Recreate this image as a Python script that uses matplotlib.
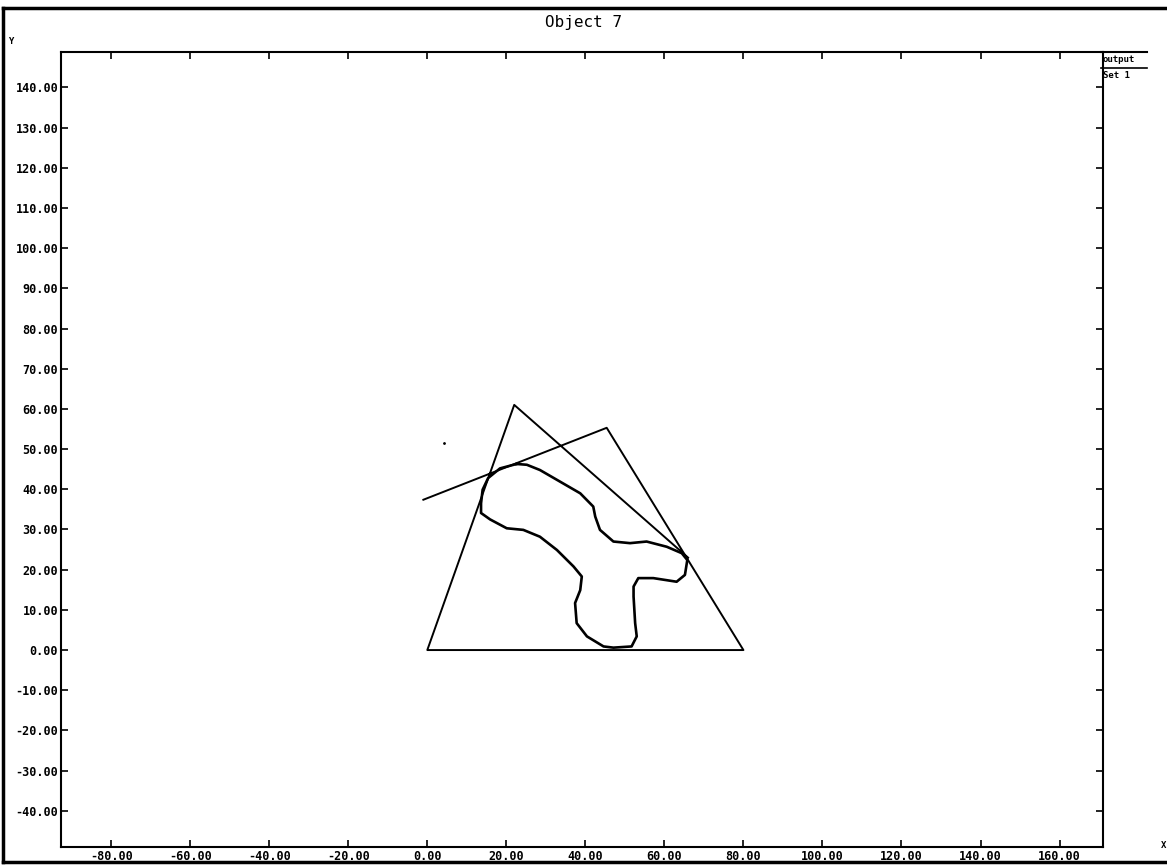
import matplotlib
matplotlib.use('Agg')
import matplotlib.pyplot as plt
from matplotlib.lines import Line2D

# construction lines (one polyline)
hull_x = [-1, 45.4, 80, 0, 22, 66]
hull_y = [37.4, 55.3, 0, 0, 61, 23]

# object outline
blob_x = [22.6, 18.4, 15.4, 14.0, 13.6, 13.6, 15.9, 20.1, 24.3, 28.5, 32.8, 37.0,
          39.1, 38.7, 37.4, 37.8, 40.4, 44.6, 47.1, 51.7, 53.0, 52.6, 52.2, 52.2,
          53.4, 57.2, 63.1, 65.2, 65.8, 64.4, 60.6, 55.5, 51.3, 47.1, 43.7, 42.5,
          42.0, 38.7, 33.6, 28.5, 25.2, 22.6]
blob_y = [46.3, 45.2, 42.8, 39.9, 36.5, 34.1, 32.5, 30.3, 29.9, 28.2, 24.9, 20.8,
          18.3, 14.9, 11.7, 6.7, 3.4, 0.9, 0.6, 0.9, 3.4, 6.7, 13.3, 15.8,
          17.9, 17.9, 17.0, 18.7, 22.4, 24.1, 25.7, 27.0, 26.6, 27.0, 29.9, 33.2,
          35.7, 39.0, 41.9, 44.8, 46.1, 46.3]

dot_x = [4.3]
dot_y = [51.5]

xticks = [-80, -60, -40, -20, 0, 20, 40, 60, 80, 100, 120, 140, 160]
yticks = [-40, -30, -20, -10, 0, 10, 20, 30, 40, 50, 60, 70, 80, 90, 100, 110, 120, 130, 140]

mono = 'DejaVu Sans Mono'

fig = plt.figure(figsize=(11.67, 8.66), dpi=100)
ax = fig.add_axes([61 / 1167, 19 / 866, 1042 / 1167, 795 / 866])

ax.plot(hull_x, hull_y, color='black', lw=1.4)
ax.plot(blob_x, blob_y, color='black', lw=1.9)
ax.plot(dot_x, dot_y, 'k.', ms=2)

ax.set_xlim(-92.7, 171)
ax.set_ylim(-49, 148.8)
ax.set_xticks(xticks)
ax.set_yticks(yticks)
ax.set_xticklabels([f'{v:.2f}' for v in xticks])
ax.set_yticklabels([f'{v:.2f}' for v in yticks])
ax.tick_params(axis='both', which='major', direction='in', length=5, width=1.2,
               top=True, right=True, labelsize=8.5, pad=2)
for lab in ax.get_xticklabels() + ax.get_yticklabels():
    lab.set_family(mono)
    lab.set_weight('bold')
for s in ax.spines.values():
    s.set_linewidth(1.5)

# title and axis names
fig.text(0.5, 1 - 22 / 866, 'Object 7', ha='center', va='center',
         family=mono, fontsize=11.5)
fig.text(11 / 1167, 1 - 42 / 866, 'Y', ha='center', va='center',
         family=mono, weight='bold', fontsize=6.5)
fig.text(1164 / 1167, 1 - 845 / 866, 'X', ha='center', va='center',
         family=mono, weight='bold', fontsize=6.5)

# legend box on the right
fig.text(1103 / 1167, 1 - 60 / 866, 'output', ha='left', va='center',
         family=mono, weight='bold', fontsize=6.5)
fig.text(1103 / 1167, 1 - 75 / 866, 'Set 1', ha='left', va='center',
         family=mono, weight='bold', fontsize=6.5)
fig.add_artist(Line2D([1101 / 1167, 1147 / 1167], [1 - 52 / 866, 1 - 52 / 866],
                      color='black', lw=1.5, transform=fig.transFigure))
fig.add_artist(Line2D([1101 / 1167, 1147 / 1167], [1 - 68 / 866, 1 - 68 / 866],
                      color='black', lw=1.2, transform=fig.transFigure))

# outer frame
for xs, ys in [([3 / 1167, 1], [1 - 8 / 866, 1 - 8 / 866]),
               ([3 / 1167, 1], [1 - 862 / 866, 1 - 862 / 866]),
               ([3 / 1167, 3 / 1167], [1 - 8 / 866, 1 - 862 / 866])]:
    fig.add_artist(Line2D(xs, ys, color='black', lw=2.5, transform=fig.transFigure))

fig.savefig('out.png', dpi=100)
